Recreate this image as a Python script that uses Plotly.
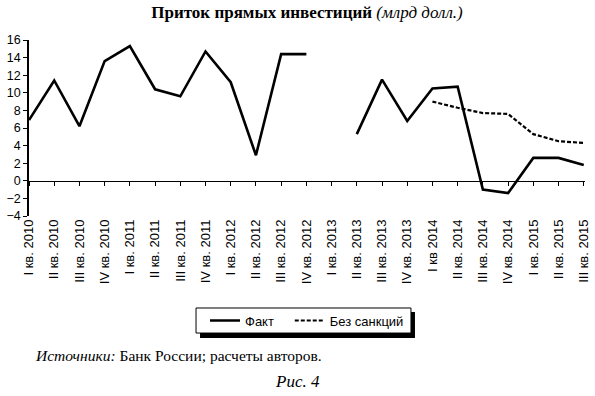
import plotly.graph_objects as go

categories = ["I кв. 2010", "II кв. 2010", "III кв. 2010", "IV кв. 2010",
              "I кв. 2011", "II кв. 2011", "III кв. 2011", "IV кв. 2011",
              "I кв. 2012", "II кв. 2012", "III кв. 2012", "IV кв. 2012",
              "I кв. 2013", "II кв. 2013", "III кв. 2013", "IV кв. 2013",
              "I кв 2014", "II кв. 2014", "III кв. 2014", "IV кв. 2014",
              "I кв. 2015", "II кв. 2015", "III кв. 2015"]
fact = [6.9, 11.4, 6.2, 13.6, 15.3, 10.4, 9.6, 14.7, 11.2, 2.9, 14.4, 14.4,
        None, 5.3, 11.5, 6.8, 10.5, 10.7, -1.0, -1.4, 2.6, 2.6, 1.8]
no_sanctions = [None] * 16 + [9.0, 8.3, 7.7, 7.6, 5.3, 4.5, 4.3]
y_ticks = [-4, -2, 0, 2, 4, 6, 8, 10, 12, 14, 16]

xs = list(range(len(categories)))

fig = go.Figure()
fig.add_trace(go.Scatter(x=xs, y=fact, mode="lines", name="Факт\u00a0\u00a0\u00a0",
                         line=dict(color="black", width=2.6), connectgaps=False))
fig.add_trace(go.Scatter(x=xs, y=no_sanctions, mode="lines", name="Без санкций",
                         line=dict(color="black", width=2.2, dash="4px,2px")))
# invisible trace to carry the zero-line axis ticks
fig.add_trace(go.Scatter(x=xs, y=[0] * len(xs), xaxis="x2", mode="lines",
                         line=dict(color="rgba(0,0,0,0)"), showlegend=False,
                         hoverinfo="skip"))

fig.update_layout(
    width=595, height=396,
    margin=dict(l=29, r=10, t=40, b=180, autoexpand=False),
    paper_bgcolor="white", plot_bgcolor="white",
    font=dict(family="Liberation Sans, Arial, sans-serif", color="black", size=12),
    title=dict(
        text="<b>Приток прямых инвестиций</b> <i>(млрд долл.)</i>",
        x=0.5, xanchor="center", y=0.97, yanchor="middle",
        xref="paper",
        font=dict(family="Liberation Serif, serif", size=17, color="black"),
    ),
    xaxis=dict(
        range=[0, 22.05], tickmode="array", tickvals=xs, ticktext=categories,
        tickangle=-90, showline=False, showgrid=False, zeroline=False,
        ticks="", automargin=False,
        tickfont=dict(size=13, family="Liberation Sans, Arial, sans-serif"),
    ),
    xaxis2=dict(
        range=[0, 22.05], overlaying="x", anchor="free", position=0.2,
        tickmode="array", tickvals=xs, showticklabels=False,
        showline=True, linecolor="black", linewidth=1.3,
        ticks="outside", ticklen=4, tickcolor="black", tickwidth=1.3,
        showgrid=False, zeroline=False, automargin=False,
    ),
    yaxis=dict(
        range=[-4, 16], tickmode="array", tickvals=y_ticks,
        ticktext=[("−" + str(-v)) if v < 0 else str(v) for v in y_ticks],
        showline=True, linecolor="black", linewidth=1.5,
        ticks="outside", ticklen=4, tickcolor="black", tickwidth=1.3,
        showgrid=False, zeroline=False, tickfont=dict(size=12.5),
        automargin=False,
    ),
    legend=dict(
        orientation="h", x=0.5, xanchor="center", y=-0.594, yanchor="middle",
        bordercolor="black", borderwidth=0, bgcolor="rgba(0,0,0,0)",
        font=dict(size=13, family="Liberation Sans, Arial"),
        itemwidth=30,
    ),
    showlegend=True,
)

# legend shadow and frame
fig.add_shape(type="rect", xref="paper", yref="paper",
              x0=0.3076, x1=0.6942, y0=-0.693, y1=-0.545,
              fillcolor="black", line=dict(width=0), layer="below")
fig.add_shape(type="rect", xref="paper", yref="paper",
              x0=0.3004, x1=0.687, y0=-0.665, y1=-0.5227,
              fillcolor="white", line=dict(color="black", width=1), layer="below")

fig.add_annotation(
    text="<i>Источники:</i> Банк России; расчеты авторов.",
    xref="paper", yref="paper", x=0.007, y=-0.79, xanchor="left", yanchor="middle",
    showarrow=False, font=dict(family="Liberation Serif, serif", size=15.5, color="black"),
)
fig.add_annotation(
    text="<i>Рис. 4</i>",
    xref="paper", yref="paper", x=0.483, y=-0.943, xanchor="center", yanchor="middle",
    showarrow=False, font=dict(family="Liberation Serif, serif", size=17, color="black"),
)

fig.write_html("out.html", post_script="document.body.style.margin='0';",
               config={"displayModeBar": False})
